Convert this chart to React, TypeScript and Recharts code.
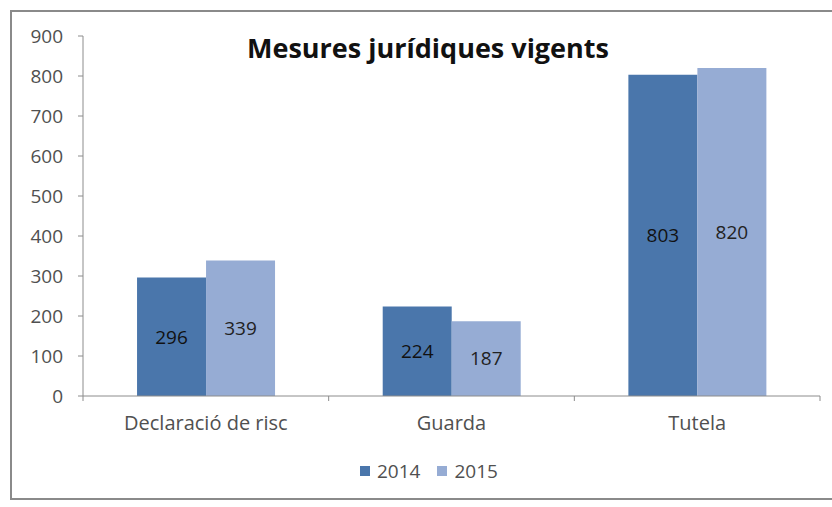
import { Bar, BarChart, LabelList, Legend, XAxis, YAxis } from 'recharts';

const categories = ['Declaració de risc', 'Guarda', 'Tutela'];
const values2014 = [296, 224, 803];
const values2015 = [339, 187, 820];
const yTicks = [0, 100, 200, 300, 400, 500, 600, 700, 800, 900];
const seriesNames = ['2014', '2015'];
const colors = ['#4a76ab', '#96acd4'];

const data = categories.map((name, i) => ({
  name,
  y2014: values2014[i],
  y2015: values2015[i],
}));

const font = '"Open Sans", Roboto, sans-serif';
const tickStyle = { fontSize: 19, fill: '#505050', fontFamily: font };
const X_TICK_SIZE = 5;
const X_TICK_MARGIN = 15;

// category label plus Excel-style tick marks at the category boundaries
function CategoryTick(props: any) {
  const { x, y, payload, index } = props;
  const half = payload?.offset ?? 0;
  const axisY = y - X_TICK_SIZE - X_TICK_MARGIN;
  return (
    <g>
      {index === 0 && (
        <line x1={x - half} x2={x - half} y1={axisY} y2={axisY + X_TICK_SIZE} stroke="#8c8c8c" />
      )}
      <line x1={x + half} x2={x + half} y1={axisY} y2={axisY + X_TICK_SIZE} stroke="#8c8c8c" />
      <text x={x} y={y} dy="0.71em" textAnchor="middle" fontSize={20} fill="#505050" fontFamily={font}>
        {payload.value}
      </text>
    </g>
  );
}

function LegendBox() {
  return (
    <div style={{ display: 'flex', alignItems: 'center', fontFamily: font, fontSize: 19, color: '#505050' }}>
      {seriesNames.map((s, i) => (
        <span key={s} style={{ display: 'flex', alignItems: 'center', marginRight: 17 }}>
          <span style={{ width: 10, height: 10, background: colors[i], marginRight: 7 }} />
          {s}
        </span>
      ))}
    </div>
  );
}

export default function App() {
  return (
    <div
      style={{
        position: 'absolute',
        left: 10,
        top: 10,
        width: 822,
        height: 486,
        border: '2px solid #8a8a8a',
        background: '#fff',
      }}
    >
      <div
        style={{
          position: 'absolute',
          left: 0,
          right: 0,
          top: 17,
          textAlign: 'center',
          paddingLeft: 10,
          fontFamily: font,
          fontWeight: 'bold',
          fontSize: 27,
          color: '#111',
          zIndex: 1,
        }}
      >
        Mesures jurídiques vigents
      </div>
      <BarChart
        width={822}
        height={486}
        data={data}
        margin={{ top: 24, right: 14, left: 15, bottom: 46 }}
        barCategoryGap="22%"
        barGap={0}
      >
        <YAxis
          domain={[0, 900]}
          ticks={yTicks}
          width={56}
          tickSize={5}
          tickMargin={15}
          tick={tickStyle}
          axisLine={{ stroke: '#8c8c8c' }}
          tickLine={{ stroke: '#8c8c8c' }}
        />
        <XAxis
          dataKey="name"
          tick={<CategoryTick />}
          tickLine={false}
          tickSize={X_TICK_SIZE}
          tickMargin={X_TICK_MARGIN}
          axisLine={{ stroke: '#8c8c8c' }}
          height={30}
        />
        <Legend
          verticalAlign="bottom"
          content={<LegendBox />}
          wrapperStyle={{ left: 348, width: 220, bottom: 14 }}
        />
        <Bar dataKey="y2014" name="2014" fill={colors[0]} isAnimationActive={false}>
          <LabelList dataKey="y2014" position="center" fill="#111" fontSize={19} fontFamily={font} />
        </Bar>
        <Bar dataKey="y2015" name="2015" fill={colors[1]} isAnimationActive={false}>
          <LabelList dataKey="y2015" position="center" fill="#222" fontSize={19} fontFamily={font} />
        </Bar>
      </BarChart>
    </div>
  );
}
